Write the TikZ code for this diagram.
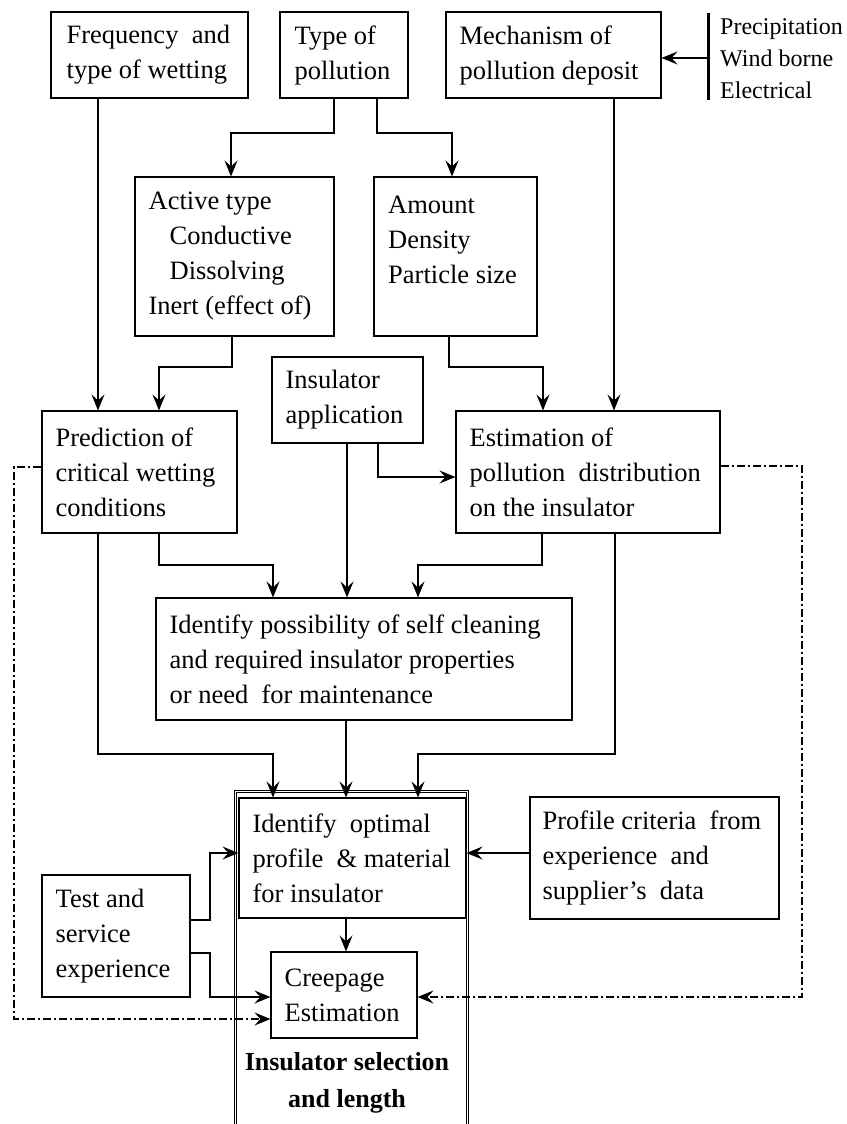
\documentclass[tikz,border=0pt]{standalone}
\usepackage{fontspec}
\setmainfont{Liberation Serif}
\usetikzlibrary{arrows.meta}
\begin{document}
\begin{tikzpicture}[x=1pt,y=-1pt,
  box/.style={draw, line width=1.1pt, inner sep=0pt},
  txt/.style={anchor=west, align=left, inner sep=0pt, font=\fontsize{26.5}{35}\selectfont},
  small/.style={anchor=west, align=left, inner sep=0pt, font=\fontsize{24}{32}\selectfont},
  bold/.style={align=center, inner sep=0pt, font=\fontsize{26}{37}\selectfont\bfseries},
  arr/.style={line width=1.1pt, -{Stealth[length=16pt,width=13pt,inset=6pt]}},
  ln/.style={line width=1.1pt},
  dd/.style={line width=1.1pt, dash pattern=on 8pt off 3pt on 2pt off 3pt},
  ddarr/.style={dd, -{Stealth[length=16pt,width=13pt,inset=6pt]}},
]
\useasboundingbox (0,0) rectangle (846,1124);

% top row
\node[box, minimum width=197pt, minimum height=86pt] (freq) at (149.5,55) {};
\node[txt] (freqT) at ([xshift=16pt]freq.west) {Frequency\ \ and\\type of wetting};
\node[box, minimum width=128pt, minimum height=86pt] (type) at (344,55) {};
\node[txt] (typeT) at ([xshift=15pt]type.west) {Type of\\pollution};
\node[box, minimum width=215pt, minimum height=86pt] (mech) at (553.5,55) {};
\node[txt] (mechT) at ([xshift=14pt]mech.west) {Mechanism of\\pollution deposit};

% bar with list
\coordinate (barTop) at (708,13);
\coordinate (barBot) at (708,100);
\coordinate (barMid) at (708,58);
\draw[line width=3pt] (barTop) -- (barBot);
\node[small] (listT) at (720,59) {Precipitation\\Wind borne\\Electrical};
\draw[arr] (barMid) -- (mech.east |- barMid);

% second row
\node[box, minimum width=199pt, minimum height=159pt] (active) at (234.5,256.5) {};
\node[txt] (activeT) at ([xshift=14pt]active.west) {Active type\\\hspace*{21pt}Conductive\\\hspace*{21pt}Dissolving\\Inert (effect of)};
\node[box, minimum width=163pt, minimum height=159pt] (amount) at (455.5,256.5) {};
\node[txt] (amountT) at (388,240) {Amount\\Density\\Particle size};

% third row
\node[box, minimum width=151pt, minimum height=86pt] (insapp) at (347.5,400) {};
\node[txt] (insappT) at ([xshift=14pt]insapp.west) {Insulator\\application};
\node[box, minimum width=195pt, minimum height=122pt] (pred) at (139.5,472) {};
\node[txt] (predT) at ([xshift=14pt]pred.west) {Prediction of\\critical wetting\\conditions};
\node[box, minimum width=264pt, minimum height=122pt] (est) at (588,472) {};
\node[txt] (estT) at ([xshift=14pt]est.west) {Estimation of\\pollution\ \ distribution\\on the insulator};

% fourth row
\node[box, minimum width=416pt, minimum height=122pt] (selfc) at (364,659) {};
\node[txt] (selfcT) at ([xshift=14pt]selfc.west) {Identify possibility of self cleaning\\and required insulator properties\\or need\ \ for maintenance};

% frame
\coordinate (frBL) at (235.5,1124);
\coordinate (frTL) at (235.5,791.5);
\coordinate (frTR) at (467.5,791.5);
\coordinate (frBR) at (467.5,1124);
\draw[line width=0.9pt, double, double distance=1.8pt] (frBL) -- (frTL) -- (frTR) -- (frBR);

% bottom
\node[box, minimum width=227pt, minimum height=120pt] (ident) at (352.5,858) {};
\node[txt] (identT) at ([xshift=14pt]ident.west) {Identify\ \ optimal\\profile\ \ \&\ material\\for insulator};
\node[box, minimum width=249pt, minimum height=122pt] (prof) at (654.5,858) {};
\node[txt] (profT) at ([xshift=13pt]prof.west) {Profile criteria\ \ from\\experience\ \ and\\supplier’s\ \ data};
\node[box, minimum width=148pt, minimum height=122pt] (test) at (116,936) {};
\node[txt] (testT) at ([xshift=14pt]test.west) {Test and\\service\\experience};
\node[box, minimum width=146pt, minimum height=86pt] (creep) at (344,995) {};
\node[txt] (creepT) at ([xshift=14pt]creep.west) {Creepage\\Estimation};
\node[bold] (selT) at (347,1083) {Insulator selection\\and length};

% connectors
\draw[arr] (98,0 |- freq.south) -- (98,0 |- pred.north);
\draw[arr] (334,0 |- type.south) -- (334,133) -- (231,133) -- (231,0 |- active.north);
\draw[arr] (377,0 |- type.south) -- (377,133) -- (452,133) -- (452,0 |- amount.north);
\draw[arr] (232,0 |- active.south) -- (232,367) -- (159,367) -- (159,0 |- pred.north);
\draw[arr] (449,0 |- amount.south) -- (449,367) -- (543,367) -- (543,0 |- est.north);
\draw[arr] (614,0 |- mech.south) -- (614,0 |- est.north);
\draw[arr] (347,0 |- insapp.south) -- (347,0 |- selfc.north);
\draw[arr] (378,0 |- insapp.south) -- (378,477) -- (est.west |- 0,477);
\draw[arr] (159,0 |- pred.south) -- (159,565) -- (273,565) -- (273,0 |- selfc.north);
\draw[arr] (542,0 |- est.south) -- (542,565) -- (418,565) -- (418,0 |- selfc.north);
\draw[arr] (98,0 |- pred.south) -- (98,754) -- (273,754) -- (273,0 |- ident.north);
\draw[arr] (346,0 |- selfc.south) -- (346,0 |- ident.north);
\draw[arr] (615,0 |- est.south) -- (615,754) -- (418,754) -- (418,0 |- ident.north);
\draw[arr] (346,0 |- ident.south) -- (346,0 |- creep.north);
\draw[arr] (prof.west |- 0,853) -- (ident.east |- 0,853);
\draw[arr] (test.east |- 0,920) -- (210,920) -- (210,853) -- (ident.west |- 0,853);
\draw[arr] (test.east |- 0,953) -- (210,953) -- (210,997) -- (creep.west |- 0,997);
\draw[ddarr] (pred.west |- 0,467) -- (14,467) -- (14,1019) -- (creep.west |- 0,1019);
\draw[ddarr] (est.east |- 0,466) -- (802,466) -- (802,997) -- (creep.east |- 0,997);
\end{tikzpicture}
\end{document}
